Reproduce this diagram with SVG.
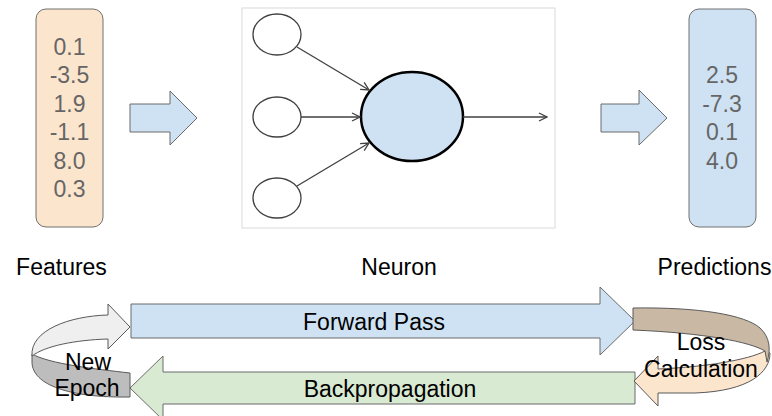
<svg xmlns="http://www.w3.org/2000/svg" width="772" height="416" viewBox="0 0 772 416">
  <defs>
    <style>
      text { font-family: "Liberation Sans", Arial, sans-serif; }
      .num { font-size: 23px; fill: #666666; text-anchor: middle; }
      .lbl { font-size: 23px; fill: #000000; text-anchor: middle; }
      .box { stroke: #707070; stroke-width: 1; }
      .block { stroke: #6a6a6a; stroke-width: 1; stroke-linejoin: miter; }
      .wire { stroke: #404040; stroke-width: 1.3; fill: none; }
      .loop { stroke: #595959; stroke-width: 1; stroke-linejoin: round; }
    </style>
    <marker id="chev" viewBox="0 0 10 10" refX="9" refY="5" markerWidth="10" markerHeight="10" markerUnits="userSpaceOnUse" orient="auto">
      <path d="M1,1 L9,5 L1,9" fill="none" stroke="#404040" stroke-width="1.3"/>
    </marker>
  </defs>

  <rect width="772" height="416" fill="#ffffff"/>

  <!-- input feature vector -->
  <g id="features">
    <rect class="box" x="36" y="9" width="67" height="218" rx="10" fill="#fce5cd"/>
    <text class="num" x="69.5" y="55">0.1</text>
    <text class="num" x="69.5" y="83.4">-3.5</text>
    <text class="num" x="69.5" y="111.8">1.9</text>
    <text class="num" x="69.5" y="140.2">-1.1</text>
    <text class="num" x="69.5" y="168.6">8.0</text>
    <text class="num" x="69.5" y="197">0.3</text>
  </g>

  <!-- single neuron with three inputs -->
  <g id="neuron">
    <rect x="242" y="8" width="313" height="220" fill="#ffffff" stroke="#d9d9d9" stroke-width="1"/>
    <ellipse cx="277" cy="34.5" rx="24" ry="20.5" fill="#ffffff" stroke="#404040" stroke-width="1.3"/>
    <ellipse cx="277" cy="117" rx="24" ry="20" fill="#ffffff" stroke="#404040" stroke-width="1.3"/>
    <ellipse cx="277" cy="198" rx="24" ry="20" fill="#ffffff" stroke="#404040" stroke-width="1.3"/>
    <ellipse cx="412" cy="116.5" rx="51" ry="44.5" fill="#cfe2f3" stroke="#000000" stroke-width="2.5"/>
  </g>

  <!-- output predictions -->
  <g id="predictions">
    <rect class="box" x="689" y="9" width="67" height="218" rx="10" fill="#cfe2f3"/>
    <text class="num" x="722" y="83.4">2.5</text>
    <text class="num" x="722" y="111.8">-7.3</text>
    <text class="num" x="722" y="140.2">0.1</text>
    <text class="num" x="722" y="168.6">4.0</text>
  </g>

  <!-- captions -->
  <g id="captions">
    <text class="lbl" x="61.5" y="275">Features</text>
    <text class="lbl" x="399" y="275">Neuron</text>
    <text class="lbl" x="714.5" y="275">Predictions</text>
  </g>

  <!-- forward pass -->
  <g id="forward-pass">
    <path class="block" d="M131,304 L600,304 L600,287 L635,321 L600,355 L600,338 L131,338 Z" fill="#cfe2f3"/>
    <text class="lbl" x="374" y="330">Forward Pass</text>
  </g>

  <!-- backpropagation -->
  <g id="backpropagation">
    <path class="block" d="M635,372 L163,372 L163,356 L130,388 L163,420 L163,404 L635,404 Z" fill="#d9ead3"/>
    <text class="lbl" x="390" y="396.7">Backpropagation</text>
  </g>

  <!-- loss calculation: curved turn on the right -->
  <g id="loss-calculation">
    <path class="loop" d="M765,351 L770,353 C 770,372 750,391 695,393 L658,393 L658,406 L634,381 L658,356 L658,369 C 705,367 748,360 765,351 Z" fill="#fce5cd"/>
    <path class="loop" d="M633,308 C 700,307 745,315 760,328 C 770,337 771,350 767,362 L765,351 C 750,342 705,333 633,330 Z" fill="#c9b8a3"/>
    <text class="lbl" x="701" y="350">Loss</text>
    <text class="lbl" x="701" y="376.7">Calculation</text>
  </g>

  <!-- new epoch: curved turn on the left -->
  <g id="new-epoch">
    <path class="loop" d="M130,373 C 95,369 50,364 32,354 L32,362 C 32,385 70,398 130,397 Z" fill="#bdbdbd"/>
    <path class="loop" d="M32,356 C 30,330 70,316 108,315 L108,304 L130,327 L108,349 L108,339 C 75,340 45,346 32,356 Z" fill="#efefef"/>
    <text class="lbl" x="88" y="370">New</text>
    <text class="lbl" x="87" y="396">Epoch</text>
  </g>

  <g id="connectors">
    <!-- block arrows between stages -->
    <path class="block" d="M130,104 L170,104 L170,91 L197,118 L170,145 L170,132 L130,132 Z" fill="#cfe2f3"/>
    <path class="block" d="M601,104 L639,104 L639,90 L667,118 L639,145 L639,132 L601,132 Z" fill="#cfe2f3"/>
    <!-- neuron wiring -->
    <line class="wire" x1="297" y1="47" x2="369" y2="90" marker-end="url(#chev)"/>
    <line class="wire" x1="301" y1="117" x2="360" y2="117" marker-end="url(#chev)"/>
    <line class="wire" x1="297" y1="186" x2="369" y2="143" marker-end="url(#chev)"/>
    <line class="wire" x1="463" y1="117" x2="547" y2="117" marker-end="url(#chev)"/>
  </g>
</svg>
